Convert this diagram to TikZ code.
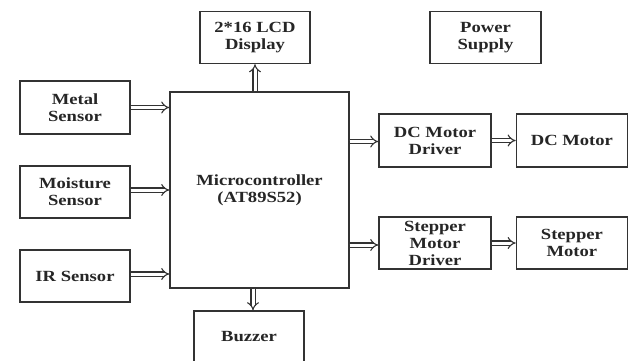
\documentclass[tikz,border=0pt]{standalone}
\usepackage{fontspec}
\setmainfont{Liberation Serif}[FakeStretch=1.2]
\usepackage{tikz}
\usetikzlibrary{arrows.meta,positioning}

\begin{document}
\begin{tikzpicture}[
  x=1pt, y=-1pt,
  block/.style={draw=black!80, line width=1.4pt, align=center, fill=white,
                minimum width=110pt, minimum height=52pt, inner sep=2pt,
                font=\fontsize{15.5}{17}\selectfont\bfseries, text=black!85},
  bigblock/.style={block, minimum width=179pt, minimum height=196pt},
  dbl/.style={double=white, draw=black!80, line width=1.1pt, double distance=3pt,
              -{Implies}}
]
\useasboundingbox[fill=white] (0,0) rectangle (631,360);
\node[bigblock] (mcu) at (259.5,190) {Microcontroller\\(AT89S52)};
\node[block] (lcd) at (255,37.5) {2*16 LCD\\Display};
\node[block, minimum width=111pt] (power) at (485.5,37.5) {Power\\Supply};
\node[block, minimum height=53pt] (metal) at (75,107.5) {Metal\\Sensor};
\node[block] (moist) at (75,192) {Moisture\\Sensor};
\node[block] (ir) at (75,276) {IR Sensor};
\node[block] (buzzer) at (249,337) {Buzzer};
\node[block, minimum width=112pt, minimum height=53pt] (dcdrv) at (435,140.5) {DC Motor\\Driver};
\node[block, minimum width=111pt, minimum height=53pt, right=24pt of dcdrv] (dcmotor) {DC Motor};
\node[block, minimum width=112pt] (stdrv) at (435,243) {Stepper\\Motor\\Driver};
\node[block, minimum width=111pt, right=24pt of stdrv] (stmotor) {Stepper\\Motor};
% inputs
\draw[dbl] (metal.east) -- (metal.east -| mcu.west);
\draw[dbl] ([yshift=2pt]moist.east) -- ([yshift=2pt]moist.east -| mcu.west);
\draw[dbl] ([yshift=2pt]ir.east) -- ([yshift=2pt]ir.east -| mcu.west);
% outputs
\draw[dbl] (lcd.south |- mcu.north) -- (lcd.south);
\draw[dbl] ([xshift=4pt]buzzer.north |- mcu.south) -- ([xshift=4pt]buzzer.north);
\draw[dbl] ([yshift=-1pt]dcdrv.west -| mcu.east) -- ([yshift=-1pt]dcdrv.west);
\draw[dbl] ([yshift=-2pt]stdrv.west -| mcu.east) -- ([yshift=-2pt]stdrv.west);
\draw[dbl] (dcdrv) -- (dcmotor);
\draw[dbl] (stdrv) -- (stmotor);
\end{tikzpicture}
\end{document}
